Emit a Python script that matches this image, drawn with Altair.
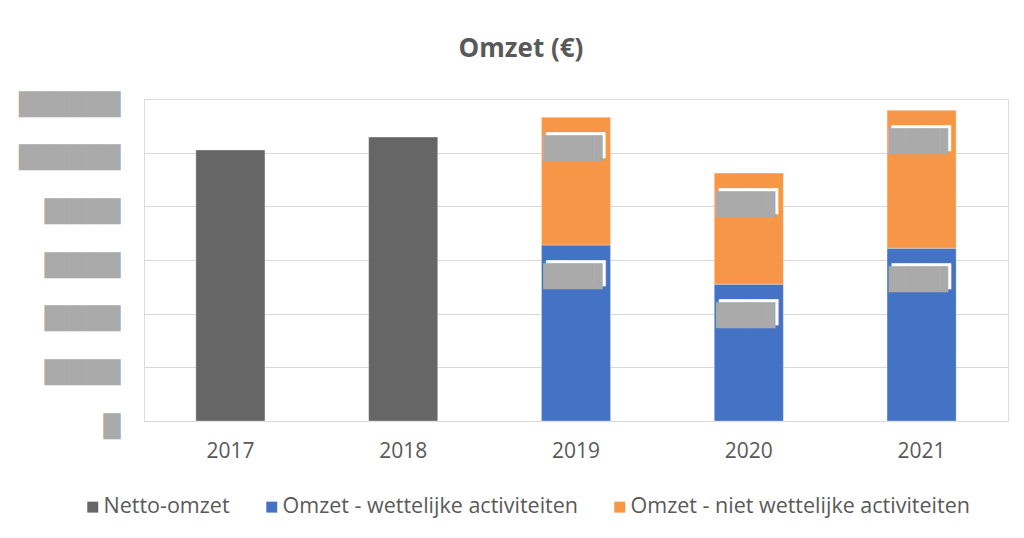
import altair as alt
import pandas as pd

years = ["2017", "2018", "2019", "2020", "2021"]
series = ["Netto-omzet", "Omzet - wettelijke activiteiten", "Omzet - niet wettelijke activiteiten"]
colors = ["#666666", "#4472C4", "#F79646"]
netto = [5.05, 5.29, None, None, None]
wettelijk = [None, None, 3.28, 2.55, 3.22]
niet_wettelijk = [None, None, 2.38, 2.07, 2.57]
# redacted tick labels (grey blocks in the original)
y_ticks = [0, 1, 2, 3, 4, 5, 6]
y_tick_labels = ["█", "▐████", "▐████", "▐████", "▐████", "██████", "██████"]
redacted_value = "███▌"

rows = []
for i, yr in enumerate(years):
    cum = 0.0
    for k, (name, vals) in enumerate(zip(series, [netto, wettelijk, niet_wettelijk])):
        v = vals[i]
        if v is None:
            continue
        rows.append({"year": yr, "series": name, "value": v, "order": k,
                     "top": cum + v, "label": k > 0})
        cum += v
df = pd.DataFrame(rows)

label_expr = " : ".join(
    f"datum.value == {t} ? '{s}'" for t, s in zip(y_ticks, y_tick_labels)
) + " : ''"

x_enc = alt.X("year:N", sort=years, title=None,
              scale=alt.Scale(paddingInner=0.6, paddingOuter=0.3),
              axis=alt.Axis(labelAngle=0, labelFont="Open Sans", labelFontSize=21,
                            labelColor="#595959", labelPadding=19, ticks=False,
                            domainColor="#D9D9D9", domainWidth=1))

bars = alt.Chart(df).mark_bar(stroke="white", strokeOpacity=0.5, strokeWidth=0.7).encode(
    x=x_enc,
    y=alt.Y("value:Q", stack="zero", title=None,
            scale=alt.Scale(domain=[0, 6], nice=False),
            axis=alt.Axis(values=y_ticks, labelExpr=label_expr, labelFont="DejaVu Sans",
                          labelFontSize=22, labelColor="#AAAAAA", labelPadding=24,
                          labelOffset=5, ticks=False, tickSize=0, domain=False,
                          gridColor="#D9D9D9", gridWidth=1)),
    color=alt.Color("series:N", scale=alt.Scale(domain=series, range=colors),
                    legend=alt.Legend(title=None, orient="none", direction="horizontal",
                                      legendX=-62, legendY=397, symbolType="square",
                                      symbolSize=120, symbolStrokeWidth=0,
                                      labelFont="Open Sans", labelFontSize=21.5,
                                      labelColor="#595959", columnPadding=31,
                                      labelOffset=0, labelLimit=0)),
    order=alt.Order("order:Q"),
)

lab = alt.Chart(df).transform_filter("datum.label")
white_box = lab.mark_text(font="DejaVu Sans", fontSize=22, color="white",
                          baseline="middle", dy=29, dx=4).encode(
    x=alt.X("year:N", sort=years), y=alt.Y("top:Q"), text=alt.value(redacted_value))
grey_box = lab.mark_text(font="DejaVu Sans", fontSize=22, color="#AAAAAA",
                         baseline="middle", dy=32, dx=1).encode(
    x=alt.X("year:N", sort=years), y=alt.Y("top:Q"), text=alt.value(redacted_value))

chart = alt.layer(bars, white_box, grey_box).properties(
    width=864, height=322,
    title=alt.TitleParams("Omzet (€)", font="Open Sans", fontSize=26, fontWeight="bold",
                          color="#595959", anchor="middle", dx=-55, offset=31),
    autosize=alt.AutoSizeParams(type="none"),
    padding={"left": 136, "top": 91, "right": 8, "bottom": 108},
).configure_view(stroke=None).configure(background="white")

chart.save("out.html", embed_options={"renderer": "svg", "actions": False})
